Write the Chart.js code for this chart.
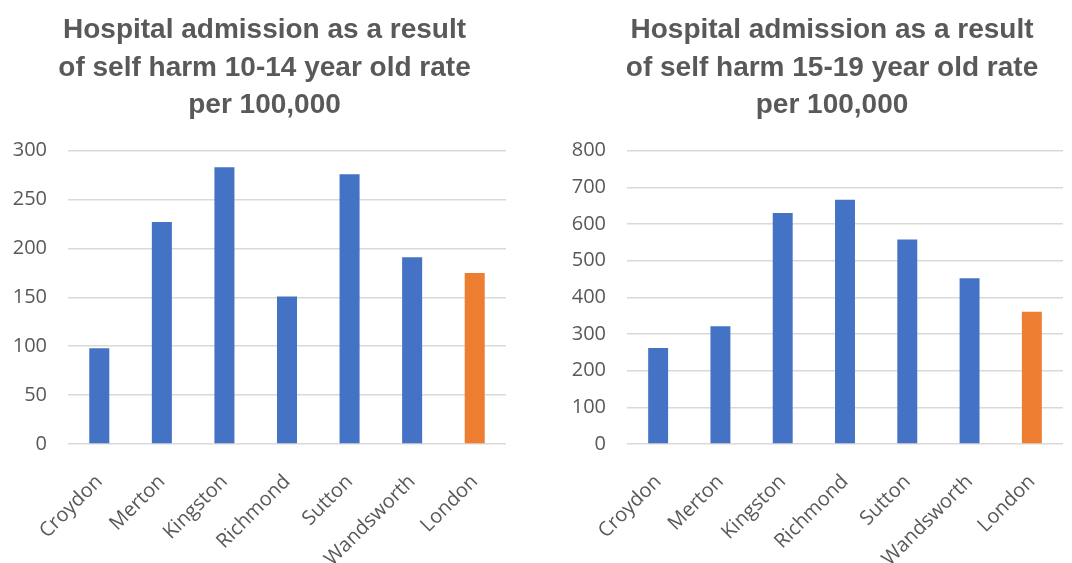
<!DOCTYPE html>
<html>
<head>
<meta charset="utf-8">
<script src="https://cdn.jsdelivr.net/npm/chart.js@4/dist/chart.umd.min.js"></script>
<style>
  html, body { margin: 0; padding: 0; background: #fff; overflow: hidden; }
  body { width: 1072px; height: 563px; position: relative; }
  .box { position: absolute; top: 0; height: 564px; }
  #box1 { left: 0; width: 529px; }
  #box2 { left: 559px; width: 546px; }
</style>
</head>
<body>
<div class="box" id="box1"><canvas id="chart1"></canvas></div>
<div class="box" id="box2"><canvas id="chart2"></canvas></div>
<script>
const boroughs = ['Croydon', 'Merton', 'Kingston', 'Richmond', 'Sutton', 'Wandsworth', 'London'];
const rate10to14 = [98, 227, 283, 151, 276, 191, 175];
const rate15to19 = [262, 321, 630, 666, 558, 452, 361];
const title10to14 = ['Hospital admission as a result', 'of self harm 10-14 year old rate', 'per 100,000'];
const title15to19 = ['Hospital admission as a result', 'of self harm 15-19 year old rate', 'per 100,000'];

const blue = '#4472C4';
const orange = '#ED7D31';
const grey = '#595959';

function barColours() {
    return boroughs.map(b => b === 'London' ? orange : blue);
}

function makeChart(id, values, title, max, step, rightGap) {
    new Chart(document.getElementById(id), {
        type: 'bar',
        data: {
            labels: boroughs,
            datasets: [{
                data: values,
                backgroundColor: barColours(),
                barPercentage: 0.32,
                categoryPercentage: 1
            }]
        },
        options: {
            responsive: true,
            maintainAspectRatio: false,
            animation: false,
            layout: { padding: 0 },
            plugins: {
                legend: { display: false },
                tooltip: { enabled: false },
                title: {
                    display: true,
                    text: title,
                    color: grey,
                    font: { family: 'Liberation Sans', size: 28, weight: 'bold', lineHeight: 1.33 },
                    padding: { top: 12, bottom: 27 }
                }
            },
            scales: {
                x: {
                    grid: { display: false },
                    border: { display: false },
                    ticks: {
                        color: grey,
                        font: { family: 'Open Sans', size: 20 },
                        maxRotation: 45,
                        minRotation: 45,
                        padding: 18
                    },
                    // fixed axis height, and a right gap that leaves the title centred on the canvas
                    afterFit: s => { s.height = 120; s.paddingRight = rightGap; }
                },
                y: {
                    min: 0,
                    max: max,
                    grid: { color: '#d9d9d9', lineWidth: 1.6, drawTicks: false },
                    border: { display: false },
                    ticks: {
                        stepSize: step,
                        color: grey,
                        font: { family: 'Open Sans', size: 20 },
                        padding: 21
                    },
                    afterFit: s => { s.width = 68; }
                }
            }
        }
    });
}

makeChart('chart1', rate10to14, title10to14, 300, 50, 23);
makeChart('chart2', rate15to19, title15to19, 800, 100, 42);
</script>
</body>
</html>
